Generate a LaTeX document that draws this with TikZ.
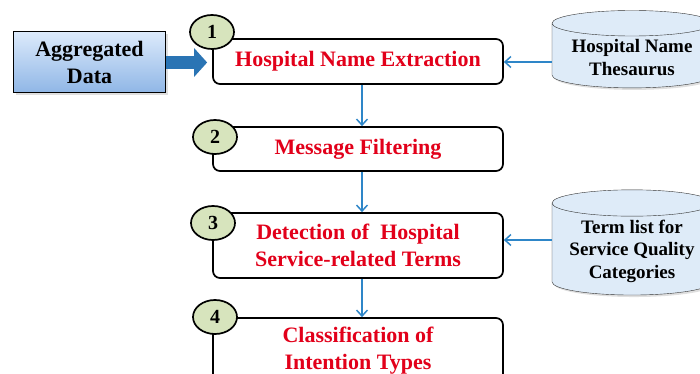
\documentclass[tikz,border=0pt]{standalone}
\usepackage{fontspec}
\setmainfont{Liberation Serif}
\usetikzlibrary{positioning, arrows.meta, shapes.geometric, shadows}
\definecolor{stepred}{HTML}{E2001A}
\definecolor{numgreen}{HTML}{D7E4BD}
\definecolor{flowblue}{HTML}{2E86C8}
\definecolor{bigblue}{HTML}{2A74B4}
\definecolor{aggtop}{HTML}{DCEAFB}
\definecolor{aggbot}{HTML}{8FB6E6}
\definecolor{dbfill}{HTML}{DEEBF8}

\begin{document}
\begin{tikzpicture}[x=1pt, y=1pt,
      stepbox/.style={draw, line width=1.7pt, rounded corners=7pt, fill=white,
                      minimum width=290pt, align=center,
                      font=\fontsize{22}{27}\selectfont\bfseries, text=stepred},
      num/.style={ellipse, draw, line width=1.7pt, fill=numgreen,
                  minimum width=44pt, minimum height=34pt, inner sep=0pt,
                  font=\fontsize{20}{20}\selectfont\bfseries},
      db/.style={cylinder, shape border rotate=90, aspect=0.2, draw=black!80,
                 fill=dbfill, minimum width=160pt, align=center,
                 drop shadow={opacity=0.25, shadow xshift=2pt, shadow yshift=-2pt},
                 font=\fontsize{19}{22.5}\selectfont\bfseries},
      flow/.style={draw=flowblue, line width=1.5pt, -{Straight Barb[length=6pt, width=11pt]}},
    ]
    \clip (0,0) rectangle (700,374);

    % input and process steps
    \node[draw, line width=1pt, top color=aggtop, bottom color=aggbot,
          minimum width=152pt, minimum height=61pt, align=center,
          drop shadow={opacity=0.25, shadow xshift=2pt, shadow yshift=-2pt},
          font=\fontsize{22}{27}\selectfont\bfseries]
          (agg) at (89.5,311.5) {Aggregated\\Data};
    \node[stepbox, minimum height=45pt] (extract) at (358,312.5) {Hospital Name Extraction};
    \node[stepbox, minimum height=44pt] (filter)  at (358,225)   {Message Filtering};
    \node[stepbox, minimum height=65pt] (detect)  at (358,128.5) {Detection of~ Hospital\\Service-related Terms};
    \node[stepbox, minimum height=65pt] (classify) at (358,23.5) {Classification of\\Intention Types};

    % step numbers
    \node[num] (n1) at (212,342) {1};
    \node[num] (n2) at (215,237) {2};
    \node[num] (n3) at (213,151) {3};
    \node[num] (n4) at (215,57)  {4};

    % resources
    \node[db, minimum height=71pt] (thes)  at (632,316.5) {Hospital Name\\Thesaurus};
    \node[db, minimum height=92pt] (terms) at (632,123)   {Term list for\\Service Quality\\Categories};

    \draw[bigblue, line width=13pt, -{Triangle[length=13pt, width=28pt]}, shorten >=5pt]
      (agg) -- (extract.west |- agg);
    \draw[flow] ([xshift=4pt]extract.south) -- ([xshift=4pt]filter.north);
    \draw[flow] ([xshift=4pt]filter.south) -- ([xshift=4pt]detect.north);
    \draw[flow] ([xshift=4pt]detect.south) -- ([xshift=4pt]classify.north);
    \draw[flow] (thes.west |- 0,312) -- (extract.east |- 0,312);
    \draw[flow] (terms.west |- 0,134) -- (detect.east |- 0,134);
  \end{tikzpicture}
\end{document}
